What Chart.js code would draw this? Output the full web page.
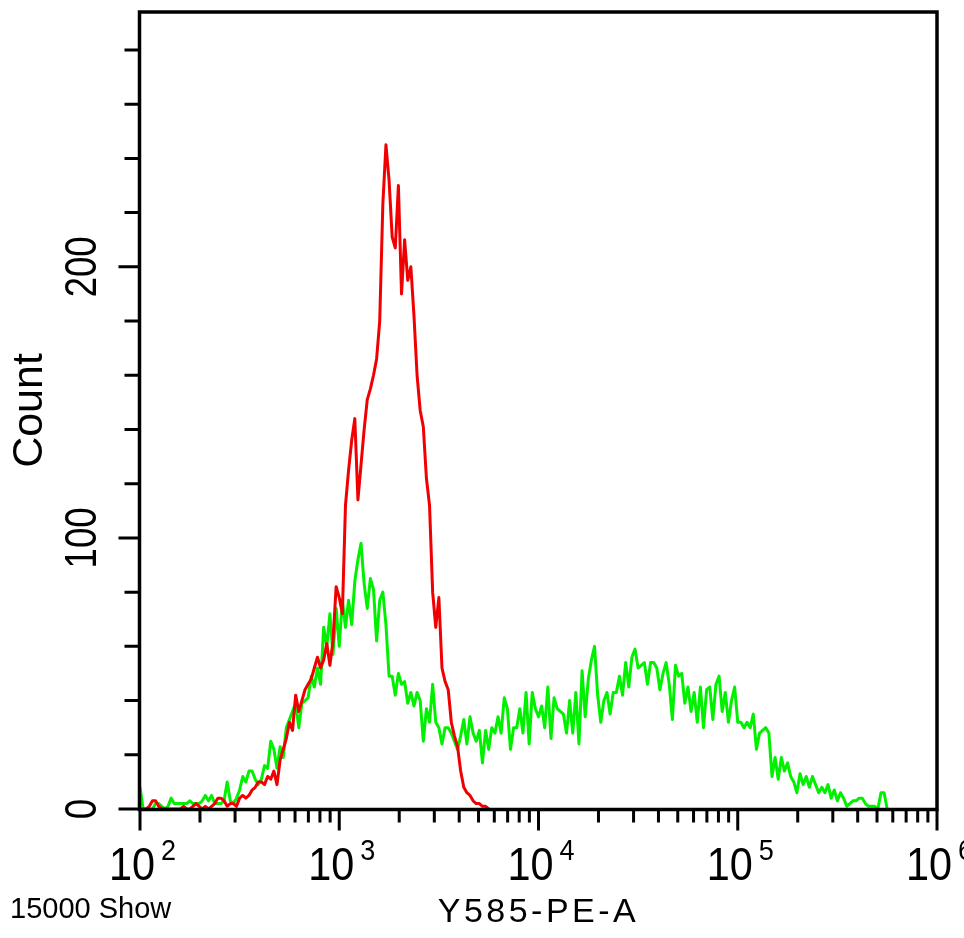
<!DOCTYPE html>
<html>
<head>
<meta charset="utf-8">
<script src="https://cdn.jsdelivr.net/npm/chart.js@4.4.0/dist/chart.umd.min.js"></script>
<style>
html,body{margin:0;padding:0;background:#fff;}
#wrap{width:964px;height:938px;}
</style>
</head>
<body>
<div id="wrap"><canvas id="c" width="964" height="938"></canvas></div>
<script>
// ---- data (histogram channels: 64 bins per decade starting at 10^2) ----
const binsPerDecade = 64;
const firstDecade = 2;

const redCounts = [
  0,0,0,1,3,3,1,0,0,0,
  0,0,0,0,1,0,0,1,2,1,
  0,1,0,1,2,4,4,3,1,2,
  2,1,4,5,4,5,7,8,10,10,
  9,12,11,14,9,18,22,26,32,29,
  42,36,40,44,46,48,52,56,52,55,
  61,53,62,82,78,72,112,125,136,144,
  114,127,140,151,155,160,166,180,223,245,
  232,211,207,230,190,210,195,200,182,160,
  147,141,122,112,80,67,78,52,47,44,
  32,27,23,14,8,6,5,3,2,2,
  1,1,0
];

const greenCounts = [
  8,0,0,0,0,2,2,1,0,1,
  4,2,2,2,2,2,3,2,2,2,
  3,5,3,5,2,2,2,3,10,3,
  2,4,7,12,10,14,14,11,9,11,
  16,15,25,22,15,23,19,30,33,36,
  39,30,39,40,41,49,45,52,46,67,
  60,72,57,74,60,77,67,77,68,84,
  92,98,83,74,85,81,62,77,80,68,
  49,49,42,50,46,47,39,43,38,43,
  40,25,37,32,46,32,30,24,30,30,
  28,25,22,27,33,24,34,28,25,29,
  17,29,22,30,28,34,28,41,37,22,
  30,30,37,28,43,24,43,37,34,38,
  30,45,26,41,37,36,35,28,40,28,
  43,24,51,34,48,55,60,42,32,40,
  43,35,43,43,49,42,54,45,56,59,
  52,53,54,46,54,54,52,44,50,54,
  46,33,53,49,50,39,45,36,43,32,
  45,30,44,45,33,46,49,36,43,32,
  40,45,32,32,30,32,30,35,22,28,
  29,30,28,12,19,11,19,14,17,12,
  10,6,13,9,12,8,12,9,6,8,
  6,9,4,7,3,6,4,1,2,3,
  3,4,4,2,1,1,1,0,6,6,
  0
];

const xMin = 100, xMax = 1000000;
const yMin = 0, yMax = 294;
const xDecadeExponents = [2, 3, 4, 5, 6];
const xMinorMultipliers = [2, 3, 4, 5, 6, 7, 8, 9];
const yMajorTicks = [0, 100, 200];
const yMinorTicks = [20, 40, 60, 80, 120, 140, 160, 180, 220, 240, 260, 280];
const xTitle = 'Y585-PE-A';
const yTitle = 'Count';
const footerText = '15000 Show';

const SANS = "'Liberation Sans', Arial, sans-serif";

function toPoints(counts) {
  return counts.map((c, i) => ({ x: Math.pow(10, firstDecade + i / binsPerDecade), y: c }));
}

const framePlugin = {
  id: 'frame',
  beforeDraw(chart) {
    // wide letter spacing for the x-axis title (drawn before datasets)
    chart.ctx.letterSpacing = '3.5px';
  },
  beforeDatasetsDraw(chart) {
    chart.ctx.letterSpacing = '0px';
  },
  afterDatasetsDraw(chart) {
    const { ctx, chartArea: a, scales: { x, y } } = chart;
    ctx.save();
    ctx.strokeStyle = '#000';
    ctx.lineCap = 'butt';
    ctx.lineWidth = 3.5;
    ctx.strokeRect(a.left - 0.5, a.top, a.right - a.left + 0.5, a.bottom - a.top + 0.5);
    ctx.lineWidth = 3;
    ctx.beginPath();
    const base = a.bottom + 0.5;
    xDecadeExponents.forEach((e, k) => {
      const px = x.getPixelForValue(Math.pow(10, e));
      ctx.moveTo(px, base); ctx.lineTo(px, base + 21);
      if (k < xDecadeExponents.length - 1) {
        xMinorMultipliers.forEach(m => {
          const mx = x.getPixelForValue(m * Math.pow(10, e));
          ctx.moveTo(mx, base); ctx.lineTo(mx, base + 13);
        });
      }
    });
    const lx = a.left - 0.5;
    yMajorTicks.forEach(v => {
      const py = y.getPixelForValue(v);
      ctx.moveTo(lx, py); ctx.lineTo(lx - 21, py);
    });
    yMinorTicks.forEach(v => {
      const py = y.getPixelForValue(v);
      ctx.moveTo(lx, py); ctx.lineTo(lx - 15, py);
    });
    ctx.stroke();
    ctx.restore();
  },
  afterDraw(chart) {
    const { ctx, scales: { x, y } } = chart;
    ctx.save();
    ctx.fillStyle = '#000';
    ctx.letterSpacing = '0px';
    // x tick labels: 10 with superscript exponent
    xDecadeExponents.forEach(e => {
      const px = x.getPixelForValue(Math.pow(10, e));
      ctx.font = '46px ' + SANS;
      const w = ctx.measureText('10').width * 0.9;
      const cx = px - 8;
      ctx.save();
      ctx.translate(cx, 880);
      ctx.scale(0.9, 1);
      ctx.textAlign = 'center';
      ctx.textBaseline = 'alphabetic';
      ctx.fillText('10', 0, 0);
      ctx.restore();
      ctx.save();
      ctx.translate(cx + w / 2 + 6, 860);
      ctx.scale(0.9, 1);
      ctx.font = '30px ' + SANS;
      ctx.textAlign = 'left';
      ctx.textBaseline = 'alphabetic';
      ctx.fillText(String(e), 0, 0);
      ctx.restore();
    });
    // y tick labels, rotated
    yMajorTicks.forEach(v => {
      const py = y.getPixelForValue(v);
      ctx.save();
      ctx.translate(84, py);
      ctx.rotate(-Math.PI / 2);
      ctx.scale(0.83, 1);
      ctx.font = '44px ' + SANS;
      ctx.textAlign = 'center';
      ctx.textBaseline = 'middle';
      ctx.fillText(String(v), 0, 0);
      ctx.restore();
    });
    ctx.font = '29px ' + SANS;
    ctx.textAlign = 'left';
    ctx.textBaseline = 'alphabetic';
    ctx.fillText(footerText, 10, 918);
    ctx.restore();
  }
};

new Chart(document.getElementById('c'), {
  type: 'line',
  data: {
    datasets: [
      { label: 'red', data: toPoints(redCounts), borderColor: '#f00000', borderWidth: 3,
        borderJoinStyle: 'round', pointRadius: 0, tension: 0, fill: false },
      { label: 'green', data: toPoints(greenCounts), borderColor: '#00f000', borderWidth: 3,
        borderJoinStyle: 'round', pointRadius: 0, tension: 0, fill: false }
    ]
  },
  options: {
    responsive: false,
    animation: false,
    devicePixelRatio: 1,
    layout: { padding: { left: 0, right: 27, top: 12, bottom: 0 } },
    plugins: { legend: { display: false }, tooltip: { enabled: false } },
    scales: {
      x: {
        type: 'logarithmic', min: xMin, max: xMax,
        grid: { display: false, drawTicks: false },
        border: { display: false },
        ticks: { display: false },
        title: { display: true, text: xTitle, color: '#000',
                 font: { family: SANS, size: 34 }, padding: { top: 0, bottom: 5 } },
        afterFit(s) { s.height = 129; s.paddingLeft = 0; s.paddingRight = 0; }
      },
      y: {
        type: 'linear', min: yMin, max: yMax,
        grid: { display: false, drawTicks: false, z: 1 },
        border: { display: false },
        ticks: { display: false },
        title: { display: true, text: yTitle, color: '#000',
                 font: { family: SANS, size: 43 }, padding: { top: 4, bottom: 0 } },
        afterFit(s) { s.width = 140; s.paddingTop = 0; s.paddingBottom = 0; }
      }
    }
  },
  plugins: [framePlugin]
});
</script>
</body>
</html>
